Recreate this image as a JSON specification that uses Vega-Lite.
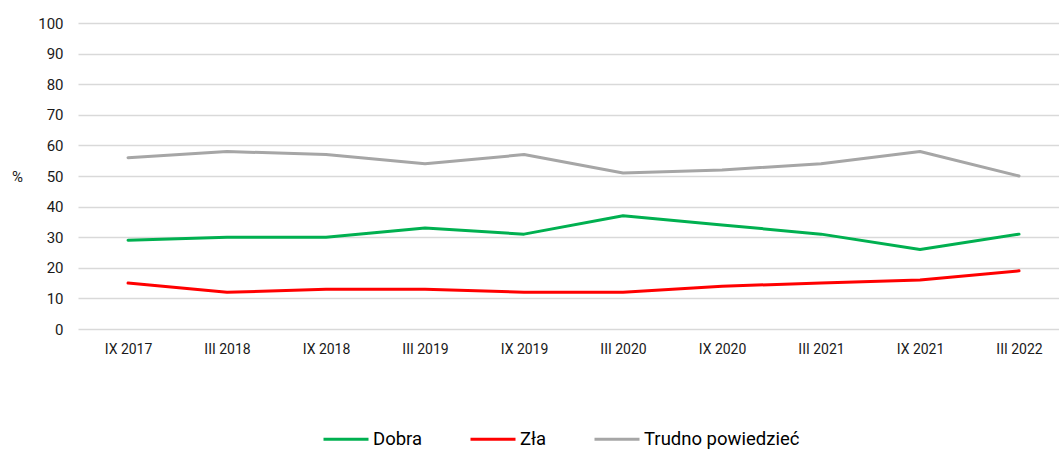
{
  "$schema": "https://vega.github.io/schema/vega-lite/v6.json",
  "autosize": "none",
  "width": 981,
  "height": 306,
  "padding": {"left": 78, "top": 23, "right": 0, "bottom": 120},
  "background": "white",
  "config": {
    "view": {"stroke": null},
    "font": "Roboto",
    "axis": {"labelFont": "Roboto", "titleFont": "Roboto"},
    "legend": {"labelFont": "Roboto"}
  },
  "data": {
    "values": [
      {"okres": "IX 2017", "seria": "Dobra", "wartosc": 29},
      {"okres": "III 2018", "seria": "Dobra", "wartosc": 30},
      {"okres": "IX 2018", "seria": "Dobra", "wartosc": 30},
      {"okres": "III 2019", "seria": "Dobra", "wartosc": 33},
      {"okres": "IX 2019", "seria": "Dobra", "wartosc": 31},
      {"okres": "III 2020", "seria": "Dobra", "wartosc": 37},
      {"okres": "IX 2020", "seria": "Dobra", "wartosc": 34},
      {"okres": "III 2021", "seria": "Dobra", "wartosc": 31},
      {"okres": "IX 2021", "seria": "Dobra", "wartosc": 26},
      {"okres": "III 2022", "seria": "Dobra", "wartosc": 31},
      {"okres": "IX 2017", "seria": "Zła", "wartosc": 15},
      {"okres": "III 2018", "seria": "Zła", "wartosc": 12},
      {"okres": "IX 2018", "seria": "Zła", "wartosc": 13},
      {"okres": "III 2019", "seria": "Zła", "wartosc": 13},
      {"okres": "IX 2019", "seria": "Zła", "wartosc": 12},
      {"okres": "III 2020", "seria": "Zła", "wartosc": 12},
      {"okres": "IX 2020", "seria": "Zła", "wartosc": 14},
      {"okres": "III 2021", "seria": "Zła", "wartosc": 15},
      {"okres": "IX 2021", "seria": "Zła", "wartosc": 16},
      {"okres": "III 2022", "seria": "Zła", "wartosc": 19},
      {"okres": "IX 2017", "seria": "Trudno powiedzieć", "wartosc": 56},
      {"okres": "III 2018", "seria": "Trudno powiedzieć", "wartosc": 58},
      {"okres": "IX 2018", "seria": "Trudno powiedzieć", "wartosc": 57},
      {"okres": "III 2019", "seria": "Trudno powiedzieć", "wartosc": 54},
      {"okres": "IX 2019", "seria": "Trudno powiedzieć", "wartosc": 57},
      {"okres": "III 2020", "seria": "Trudno powiedzieć", "wartosc": 51},
      {"okres": "IX 2020", "seria": "Trudno powiedzieć", "wartosc": 52},
      {"okres": "III 2021", "seria": "Trudno powiedzieć", "wartosc": 54},
      {"okres": "IX 2021", "seria": "Trudno powiedzieć", "wartosc": 58},
      {"okres": "III 2022", "seria": "Trudno powiedzieć", "wartosc": 50}
    ]
  },
  "mark": {"type": "line", "strokeWidth": 3, "strokeCap": "round", "strokeJoin": "round"},
  "encoding": {
    "x": {
      "field": "okres",
      "type": "ordinal",
      "sort": null,
      "scale": {"type": "point", "padding": 0.4545, "align": 0.556},
      "axis": {
        "title": null,
        "labelAngle": 0,
        "labelFontSize": 14,
        "labelColor": "#1a1a1a",
        "labelPadding": 13,
        "ticks": false,
        "domain": false,
        "grid": false
      }
    },
    "y": {
      "field": "wartosc",
      "type": "quantitative",
      "scale": {"domain": [0, 100]},
      "axis": {
        "values": [0, 10, 20, 30, 40, 50, 60, 70, 80, 90, 100],
        "title": "%",
        "titleAngle": 0,
        "titleAlign": "center",
        "titleBaseline": "middle",
        "titleX": -61,
        "titleY": 153,
        "titleFontSize": 15,
        "titleFontWeight": "normal",
        "titleColor": "#1a1a1a",
        "labelFontSize": 15,
        "labelColor": "#1a1a1a",
        "labelPadding": 15,
        "ticks": false,
        "domain": false,
        "grid": true,
        "gridColor": "#D9D9D9",
        "gridWidth": 1.5
      }
    },
    "color": {
      "field": "seria",
      "type": "nominal",
      "sort": ["Dobra", "Zła", "Trudno powiedzieć"],
      "scale": {
        "domain": ["Dobra", "Zła", "Trudno powiedzieć"],
        "range": ["#00B050", "#FF0000", "#A6A6A6"]
      },
      "legend": {
        "title": null,
        "orient": "none",
        "direction": "horizontal",
        "legendX": 244,
        "legendY": 392,
        "symbolType": "stroke",
        "symbolSize": 2025,
        "symbolStrokeWidth": 3,
        "labelFontSize": 18.5,
        "labelColor": "#000000",
        "labelOffset": 3,
        "columnPadding": 41
      }
    }
  }
}
